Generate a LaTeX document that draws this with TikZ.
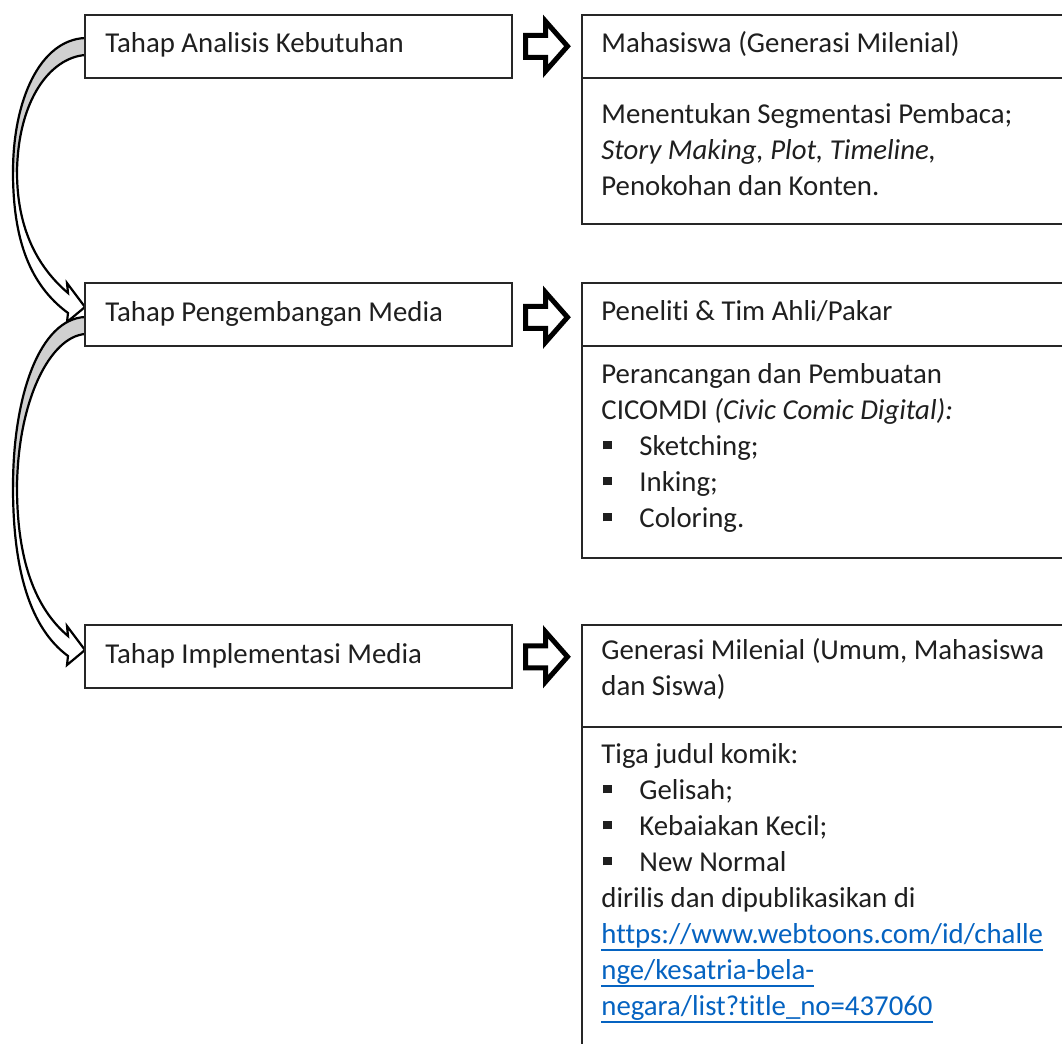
\documentclass[tikz,border=0pt]{standalone}
\usepackage{fontspec}
\setmainfont{Carlito}[Ligatures=NoCommon]
\usetikzlibrary{calc}
\definecolor{linkblue}{HTML}{0563C1}
\definecolor{bandgrey}{HTML}{D0D0D0}
\newcommand{\sqbul}{\makebox[19pt][l]{\hspace*{1pt}\rule[3pt]{4.3pt}{4.3pt}}}
\newsavebox{\lnkbox}
\newcommand{\lnk}[1]{\sbox{\lnkbox}{#1}\textcolor{linkblue}{\rlap{\rule[-3.6pt]{\wd\lnkbox}{0.7pt}}#1}}
% curved arrow 1 (outline path)
\newcommand{\curveA}{(85,38) .. controls (40,40) and (13,100) .. (13,172) .. controls (13,240) and (30,285) .. (68,313) -- (67,322) -- (85,307) -- (67,283) -- (68,293) .. controls (35,265) and (17,225) .. (17,172) .. controls (18,100) and (50,58) .. (85,55)}
\newcommand{\bandA}{(85,38) .. controls (40,40) and (13,100) .. (13,172) -- (17,172) .. controls (18,100) and (50,58) .. (85,55) -- cycle}
% curved arrow 2
\newcommand{\curveB}{(85,317) .. controls (40,319) and (13,395) .. (13,487) .. controls (13,570) and (30,628) .. (68,656) -- (67,665) -- (85,650) -- (67,626) -- (68,636) .. controls (35,608) and (17,560) .. (17,487) .. controls (18,400) and (50,337) .. (85,334)}
\newcommand{\bandB}{(85,317) .. controls (40,319) and (13,395) .. (13,487) -- (17,487) .. controls (18,400) and (50,337) .. (85,334) -- cycle}
\begin{document}
\begin{tikzpicture}[x=0.5pt,y=-0.5pt,
  box/.style={draw=black!85, line width=0.75pt, fill=white, anchor=north west, inner sep=0pt},
  txt/.style={font=\fontsize{14.4}{18}\selectfont, inner sep=0pt, align=left, text=black!88},
  curv/.style={draw=black, line width=1.1pt, line join=miter},
  blockarr/.pic={\draw[line width=2.5pt, line join=miter, fill=white] (-21,-11) -- (-1,-11) -- (-1,-25) -- (21,0) -- (-1,25) -- (-1,11) -- (-21,11) -- cycle;}
]
\useasboundingbox (0,0) rectangle (1062,1044);

% curved arrows
\path[fill=white] \curveA -- cycle;
\path[fill=bandgrey] \bandA;
\draw[curv] \curveA;
\path[fill=white] \curveB -- cycle;
\path[fill=bandgrey] \bandB;
\draw[curv] \curveB;

% left boxes
\node[box, minimum width=213.5pt, minimum height=31.5pt] (L1) at (84,14) {};
\node[box, minimum width=213.5pt, minimum height=31.5pt] (L2) at (84,282) {};
\node[box, minimum width=213.5pt, minimum height=31.5pt] (L3) at (84,624) {};

% right boxes
\node[box, minimum width=246pt, minimum height=31.5pt] (H1) at (581,14) {};
\node[box, minimum width=246pt, minimum height=73pt] (B1) at (581,77) {};
\node[box, minimum width=246pt, minimum height=31.5pt] (H2) at (581,282) {};
\node[box, minimum width=246pt, minimum height=106pt] (B2) at (581,345) {};
\node[box, minimum width=246pt, minimum height=51pt] (H3) at (581,624) {};
\node[box, minimum width=246pt, minimum height=170pt] (B3) at (581,726) {};

% texts
\node[txt, anchor=base west] (tL1) at (105,53) {Tahap Analisis Kebutuhan};
\node[txt, anchor=base west] (tL2) at (105,321) {Tahap Pengembangan Media};
\node[txt, anchor=base west] (tL3) at (105,663) {Tahap Implementasi Media};
\node[txt, anchor=base west] (tH1) at (601,53) {Mahasiswa (Generasi Milenial)};
\node[txt, anchor=base west] (tH2) at (601,320) {Peneliti \& Tim Ahli/Pakar};
\node[txt, anchor=north west] (tH3) at (601,633.8) {\strut Generasi Milenial (Umum, Mahasiswa\\dan Siswa)};
\node[txt, anchor=north west] (tB1) at (601,97.8) {\strut Menentukan Segmentasi Pembaca;\\\textit{Story Making, Plot, Timeline,}\\Penokohan dan Konten.};
\node[txt, anchor=north west] (tB2) at (601,357.8) {\strut Perancangan dan Pembuatan\\CICOMDI \textit{(Civic Comic Digital):}\\\sqbul Sketching;\\\sqbul Inking;\\\sqbul Coloring.};
\node[txt, anchor=north west] (tB3) at (601,737.8) {\strut Tiga judul komik:\\\sqbul Gelisah;\\\sqbul Kebaiakan Kecil;\\\sqbul New Normal\\dirilis dan dipublikasikan di\\\lnk{https://www.webtoons.com/id/challe}\\\lnk{nge/kesatria-bela-}\\\lnk{negara/list?title\_no=437060}};

% block arrows
\pic at ($(L1.east)+(34,0)$) {blockarr};
\pic at ($(L2.east)+(34,3)$) {blockarr};
\pic at ($(L3.east)+(34,0.5)$) {blockarr};
\end{tikzpicture}
\end{document}
